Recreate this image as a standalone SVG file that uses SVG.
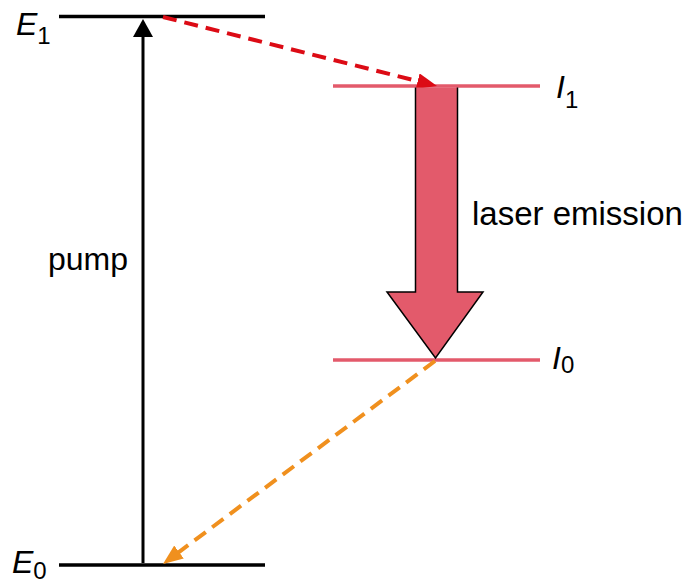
<svg xmlns="http://www.w3.org/2000/svg" width="690" height="583" viewBox="0 0 690 583">
<style>
.lvl{stroke:#000;stroke-width:3.5;fill:none}
.lvlp{stroke:#e35a6b;stroke-width:3.5;fill:none}
.t{font-family:"Liberation Sans",Arial,sans-serif;font-size:32px;fill:#000}
.it{font-style:italic}
.sub{font-size:24px}
.dash{stroke-width:4;stroke-dasharray:14 8;fill:none}
</style>
<defs>
<marker id="hRed" markerUnits="userSpaceOnUse" markerWidth="22" markerHeight="18" refX="4" refY="8" orient="auto">
<path d="M0,0 L20,8 L0,16 z" fill="#dc0b15"/>
</marker>
<marker id="hOr" markerUnits="userSpaceOnUse" markerWidth="22" markerHeight="18" refX="4" refY="8" orient="auto">
<path d="M0,0 L20,8 L0,16 z" fill="#f0901e"/>
</marker>
<marker id="hBlk" markerUnits="userSpaceOnUse" markerWidth="20" markerHeight="22" refX="2" refY="10" orient="auto">
<path d="M0,0 L18,10 L0,20 z" fill="#000"/>
</marker>
</defs>
<g id="E1"><line class="lvl" x1="59" y1="16.5" x2="265" y2="16.5"/><text class="t" x="16" y="35"><tspan class="it">E</tspan><tspan class="sub" dy="9">1</tspan></text></g>
<g id="E0"><line class="lvl" x1="59" y1="565" x2="265" y2="565"/><text class="t" x="12" y="573"><tspan class="it">E</tspan><tspan class="sub" dy="6">0</tspan></text></g>
<g id="I1"><line class="lvlp" x1="333" y1="86" x2="540" y2="86"/><text class="t" x="556" y="98"><tspan class="it">I</tspan><tspan class="sub" dy="10">1</tspan></text></g>
<g id="I0"><line class="lvlp" x1="333" y1="360" x2="540" y2="360"/><text class="t" x="552" y="369"><tspan class="it">I</tspan><tspan class="sub" dy="4">0</tspan></text></g>
<g id="connectors">
<line x1="143" y1="563" x2="143" y2="35" stroke="#000" stroke-width="3" marker-end="url(#hBlk)"/>
<line class="dash" x1="163" y1="17" x2="421.5" y2="82.1" stroke="#dc0b15" marker-end="url(#hRed)"/>
<line class="dash" x1="435" y1="361" x2="175.8" y2="554.4" stroke="#f0901e" marker-end="url(#hOr)"/>
<path id="laser" d="M415.5,87.5 L415.5,292 L387,292 L435.5,358 L483,292 L457.5,292 L457.5,87.5" fill="#e35a6b" stroke="#000" stroke-width="1.5" stroke-linejoin="miter"/>
</g>
<text class="t" x="472" y="225" style="font-size:33px">laser emission</text>
<text class="t" x="48" y="270">pump</text>
</svg>
